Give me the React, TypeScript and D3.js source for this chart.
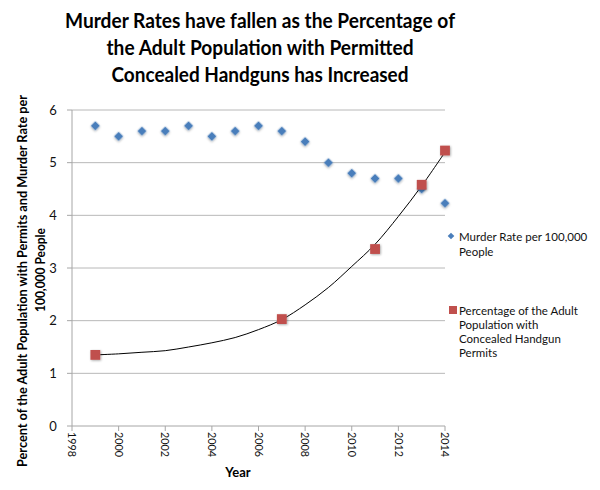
import React from "react";
import * as d3 from "d3";

const titleLines = [
  "Murder Rates have fallen as the Percentage of",
  "the Adult Population with Permitted",
  "Concealed Handguns has Increased",
];
const murderYears = [1999, 2000, 2001, 2002, 2003, 2004, 2005, 2006, 2007, 2008, 2009, 2010, 2011, 2012, 2013, 2014];
const murderRates = [5.7, 5.5, 5.6, 5.6, 5.7, 5.5, 5.6, 5.7, 5.6, 5.4, 5.0, 4.8, 4.7, 4.7, 4.5, 4.23];
const permitYears = [1999, 2007, 2011, 2013, 2014];
const permitPcts = [1.35, 2.03, 3.36, 4.58, 5.23];
const trendYears = [1999, 2000, 2001, 2002, 2003, 2004, 2005, 2006, 2007, 2008, 2009, 2010, 2011, 2012, 2013, 2014];
const trendValues = [1.35, 1.37, 1.4, 1.43, 1.5, 1.58, 1.68, 1.83, 2.02, 2.3, 2.63, 3.03, 3.45, 3.98, 4.56, 5.2];
const xTicks = [1998, 2000, 2002, 2004, 2006, 2008, 2010, 2012, 2014];
const yTicks = [0, 1, 2, 3, 4, 5, 6];
const legendMurder = ["Murder Rate per 100,000", "People"];
const legendPermit = ["Percentage of the Adult", "Population with", "Concealed Handgun", "Permits"];
const yLabelLines = ["Percent of the Adult Population with Permits and Murder Rate per", "100,000 People"];
const xLabel = "Year";

const BLUE = "#4a7ebb";
const RED = "#c0504d";
const FONT = "Lato, 'Open Sans', sans-serif";

export default function App() {
  const x = d3.scaleLinear().domain([1998, 2014]).range([72, 445]);
  const y = d3.scaleLinear().domain([0, 6]).range([426, 110]);
  const line = d3
    .line<number>()
    .x((_, i) => x(trendYears[i]))
    .y((d) => y(d))
    .curve(d3.curveCatmullRom);
  const diamond = d3.symbol(d3.symbolSquare, 42)();
  const square = d3.symbol(d3.symbolSquare, 96)();
  const titleWidths = [390, 307, 297];

  return (
    <svg width={600} height={490} style={{ position: "absolute", left: 0, top: 0, background: "#fff" }} fontFamily={FONT}>
      <defs>
        <filter id="sh" x="-50%" y="-50%" width="200%" height="200%">
          <feDropShadow dx="0.8" dy="0.8" stdDeviation="0.9" floodColor="#000" floodOpacity="0.35" />
        </filter>
      </defs>
      <rect width={600} height={490} fill="#fff" />
      {titleLines.map((t, i) => (
        <text
          key={i}
          x={260}
          y={27.5 + i * 27}
          textAnchor="middle"
          fontSize={21}
          fontWeight={700}
          fill="#000"
          textLength={titleWidths[i]}
          lengthAdjust="spacingAndGlyphs"
        >
          {t}
        </text>
      ))}
      {/* gridlines */}
      {yTicks.slice(1).map((t) => (
        <line key={t} x1={x(1998)} x2={x(2014)} y1={y(t)} y2={y(t)} stroke="#b8b8b8" strokeWidth={1} />
      ))}
      {/* axes */}
      <line x1={x(1998)} x2={x(1998)} y1={y(6)} y2={y(0)} stroke="#a6a6a6" strokeWidth={1} />
      <line x1={x(1998)} x2={x(2014)} y1={y(0)} y2={y(0)} stroke="#a6a6a6" strokeWidth={1} />
      {yTicks.map((t) => (
        <g key={t}>
          <line x1={x(1998) - 5} x2={x(1998)} y1={y(t)} y2={y(t)} stroke="#a6a6a6" />
          <text x={53} y={y(t) + 4.5} textAnchor="middle" fontSize={13} fill="#111">
            {t}
          </text>
        </g>
      ))}
      {xTicks.map((t) => (
        <g key={t}>
          <line x1={x(t)} x2={x(t)} y1={y(0)} y2={y(0) + 5} stroke="#a6a6a6" />
          <text
            transform={`translate(${x(t)},${432}) rotate(90)`}
            dy="0.35em"
            fontSize={11}
            fill="#111"
            textLength={25}
            lengthAdjust="spacingAndGlyphs"
          >
            {t}
          </text>
        </g>
      ))}
      {/* trendline */}
      <path d={line(trendValues) || ""} fill="none" stroke="#000" strokeWidth={1} />
      {/* murder diamonds */}
      {murderRates.map((v, i) => (
        <path
          key={i}
          d={diamond || ""}
          transform={`translate(${x(murderYears[i])},${y(v)}) rotate(45)`}
          fill={BLUE}
          filter="url(#sh)"
        />
      ))}
      {/* permit squares */}
      {permitPcts.map((v, i) => (
        <path key={i} d={square || ""} transform={`translate(${x(permitYears[i])},${y(v)})`} fill={RED} filter="url(#sh)" />
      ))}
      {/* axis labels */}
      <text
        transform={`translate(27,281) rotate(-90)`}
        textAnchor="middle"
        fontSize={12.5}
        fontWeight={700}
        fill="#000"
        textLength={372}
        lengthAdjust="spacingAndGlyphs"
      >
        {yLabelLines[0]}
      </text>
      <text
        transform={`translate(45,270) rotate(-90)`}
        textAnchor="middle"
        fontSize={12.5}
        fontWeight={700}
        fill="#000"
        textLength={84}
        lengthAdjust="spacingAndGlyphs"
      >
        {yLabelLines[1]}
      </text>
      <text x={238} y={477} textAnchor="middle" fontSize={13} fontWeight={700} fill="#000">
        {xLabel}
      </text>
      {/* legend */}
      <path d={d3.symbol(d3.symbolSquare, 22)() || ""} transform="translate(451,236) rotate(45)" fill={BLUE} />
      {legendMurder.map((t, i) => (
        <text key={i} x={459} y={241 + i * 15} fontSize={11.5} fill="#111">
          {t}
        </text>
      ))}
      <rect x={449} y={306} width={8} height={8} fill={RED} />
      {legendPermit.map((t, i) => (
        <text key={i} x={459} y={315 + i * 14} fontSize={11.5} fill="#111">
          {t}
        </text>
      ))}
    </svg>
  );
}
